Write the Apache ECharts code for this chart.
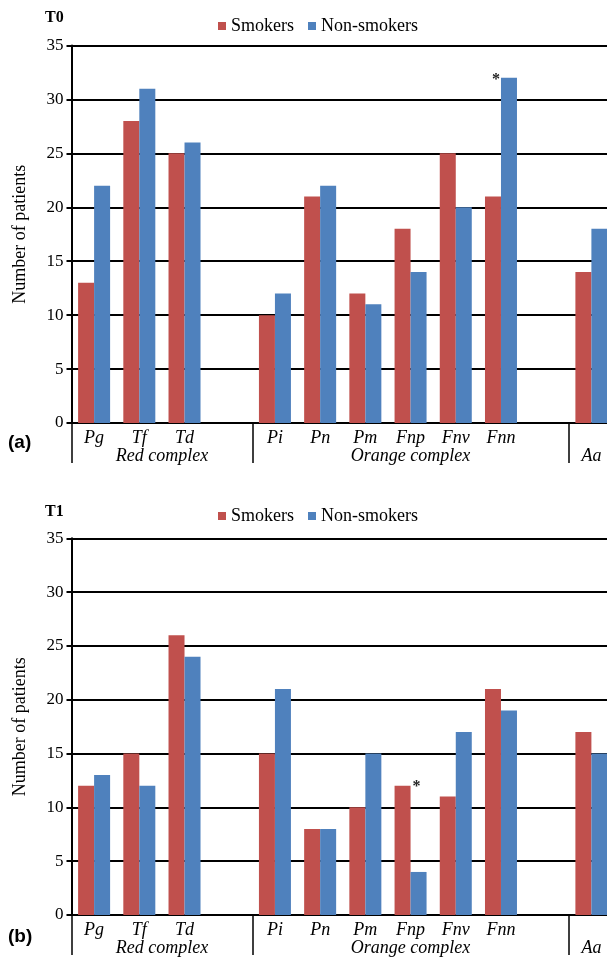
<!DOCTYPE html>
<html><head><meta charset="utf-8">
<script src="https://cdn.jsdelivr.net/npm/echarts@6/dist/echarts.min.js"></script>
<style>html,body{margin:0;padding:0;background:#fff}#c{width:607px;height:959px}</style>
</head><body><div id="c"></div>
<script>
// ---- data ----
const categories = ['Pg','Tf','Td','','Pi','Pn','Pm','Fnp','Fnv','Fnn','','Aa'];
const groupNames = ['Red complex','Orange complex','Aa'];
const groupSpans = [4, 7, 1];
const seriesNames = ['Smokers','Non-smokers'];
const t0Smokers    = [13, 28, 25, null, 10, 21, 12, 18, 25, 21, null, 14];
const t0NonSmokers = [22, 31, 26, null, 12, 22, 11, 14, 20, 32, null, 18];
const t1Smokers    = [12, 15, 26, null, 15,  8, 10, 12, 11, 21, null, 17];
const t1NonSmokers = [13, 12, 24, null, 21,  8, 15,  4, 17, 19, null, 15];
const yTicks = [0, 5, 10, 15, 20, 25, 30, 35];
const panelTitles = ['T0','T1'];
const panelLetters = ['(a)','(b)'];
const yAxisTitle = 'Number of patients';
// significance markers: [panel, series index, category]
const sigMarks = [[0, 1, 'Fnn'], [1, 0, 'Fnp']];

// ---- styling / layout ----
const colors = ['#C0504D', '#4F81BD'];
const SERIF = 'Liberation Serif';
const gridLeft = 71.5, gridWidth = 542.5;
const panels = [
  {top: 45.5, height: 377.5, legendTop: 17, titleTop: 9.5, letterTop: 433.5, sigPos: [-5, 2.5]},
  {top: 538.3, height: 376.7, legendTop: 507, titleTop: 504, letterTop: 927.5, sigPos: [22, 1]}
];
const panelData = [[t0Smokers, t0NonSmokers], [t1Smokers, t1NonSmokers]];

// group boundaries / centers
const groupStarts = [];
let acc = 0;
groupSpans.forEach(s => { groupStarts.push(acc); acc += s; });
const groupCenters = groupStarts.map((s, i) => s + groupSpans[i] / 2);

const option = {
  animation: false,
  backgroundColor: '#fff',
  title: [], legend: [], grid: [], xAxis: [], yAxis: [], series: []
};

panels.forEach((pl, p) => {
  option.grid.push({left: gridLeft, top: pl.top, width: gridWidth, height: pl.height,
    containLabel: false, outerBoundsMode: 'none'});
  option.title.push({text: panelTitles[p], left: 45, top: pl.titleTop, padding: 0,
    textStyle: {fontFamily: SERIF, fontWeight: 'bold', fontSize: 16, color: '#000'}});
  option.title.push({text: panelLetters[p], left: 8, top: pl.letterTop, padding: 0,
    textStyle: {fontFamily: 'Liberation Sans', fontWeight: 'bold', fontSize: 19, color: '#000'}});
  option.legend.push({data: seriesNames, left: 218, top: pl.legendTop, padding: 0,
    icon: 'rect', itemWidth: 8, itemHeight: 8, itemGap: 14, selectedMode: false,
    textStyle: {fontFamily: SERIF, fontSize: 18, color: '#000'}});
  option.xAxis.push({
    type: 'category', gridIndex: p, data: categories, position: 'bottom',
    axisLine: {lineStyle: {color: '#000', width: 2}},
    axisTick: {show: true, interval: (i) => groupStarts.includes(i), length: 40,
      lineStyle: {color: '#000', width: 1.5}},
    axisLabel: {interval: 0, margin: 6, fontFamily: SERIF, fontStyle: 'italic', fontSize: 18, color: '#000',
      formatter: (v) => groupNames.includes(v) ? '' : v},
    splitLine: {show: false}
  });
  option.xAxis.push({
    type: 'value', gridIndex: p, position: 'bottom', min: 0, max: categories.length, interval: 0.5,
    axisLine: {show: false}, axisTick: {show: false}, splitLine: {show: false},
    axisLabel: {margin: 24, showMinLabel: true, showMaxLabel: true, fontFamily: SERIF, fontStyle: 'italic',
      fontSize: 18, color: '#000',
      formatter: (v) => { const k = groupCenters.findIndex(c => Math.abs(c - v) < 1e-6); return k >= 0 ? groupNames[k] : ''; }}
  });
  option.yAxis.push({
    type: 'value', gridIndex: p, min: yTicks[0], max: yTicks[yTicks.length - 1], interval: yTicks[1] - yTicks[0],
    name: yAxisTitle, nameLocation: 'middle', nameGap: 42,
    nameTextStyle: {fontFamily: SERIF, fontSize: 18, color: '#000'},
    axisLine: {show: true, lineStyle: {color: '#000', width: 2}},
    axisTick: {show: true, length: 5, lineStyle: {color: '#000', width: 2}},
    axisLabel: {margin: 8, fontFamily: SERIF, fontSize: 17, color: '#000'},
    splitLine: {show: true, lineStyle: {color: '#000', width: 2}}
  });
  seriesNames.forEach((name, s) => {
    const vals = panelData[p][s];
    const data = vals.map((v, i) => {
      const mark = sigMarks.find(m => m[0] === p && m[1] === s && m[2] === categories[i]);
      if (v === null) return '-';
      if (!mark) return v;
      return {value: v, label: {show: true, formatter: '*', position: pl.sigPos, align: 'center',
        verticalAlign: 'middle', fontFamily: SERIF, fontWeight: 'bold', fontSize: 16, color: '#222'}};
    });
    option.series.push({
      name, type: 'bar', xAxisIndex: 2 * p, yAxisIndex: p, data,
      barWidth: 16, barGap: '0%', itemStyle: {color: colors[s]}
    });
  });
});

const chart = echarts.init(document.getElementById('c'), null, {renderer: 'canvas'});
chart.setOption(option);
</script>
</body></html>
